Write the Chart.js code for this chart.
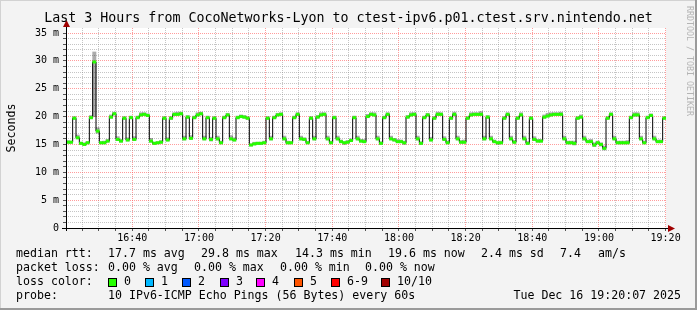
<!DOCTYPE html>
<html>
<head>
<meta charset="utf-8">
<script src="https://cdn.jsdelivr.net/npm/chart.js@4.4.1/dist/chart.umd.min.js"></script>
<style>
  html, body { margin: 0; padding: 0; background: #f3f3f3; }
  #wrap { width: 697px; height: 310px; }
</style>
</head>
<body>
<div id="wrap"><canvas id="ping" width="697" height="310"></canvas></div>
<script>
// time axis in minutes after 16:00, window is 16:20:07 .. 19:20:07
const startMin = 20 + 7 / 60;
const endMin = startMin + 180;

// median rtt per minute (ms)
const medianRtt = [
  15.4, 15.4, 19.7, 16.2, 15.2, 15.0, 15.3, 19.8, 29.8, 17.4,
  15.3, 15.3, 15.6, 19.9, 20.5, 15.9, 15.6, 19.7, 15.8, 19.8,
  15.9, 19.8, 20.3, 20.4, 20.2, 15.6, 15.2, 15.3, 15.4, 19.7,
  15.8, 19.7, 20.4, 20.4, 20.5, 16.0, 19.9, 16.1, 19.8, 20.3,
  20.5, 16.0, 19.8, 15.9, 19.7, 16.0, 15.3, 19.8, 20.3, 16.0,
  15.8, 19.8, 20.0, 19.9, 19.7, 14.9, 15.1, 15.2, 15.2, 15.3,
  19.7, 16.0, 19.8, 20.3, 20.4, 16.0, 15.3, 15.3, 19.8, 20.4,
  16.0, 15.9, 15.3, 19.7, 16.0, 19.9, 20.3, 20.4, 16.0, 15.3,
  19.8, 16.0, 15.5, 15.3, 15.4, 15.7, 19.8, 16.0, 15.6, 15.5,
  20.0, 20.4, 20.3, 16.0, 15.2, 19.8, 20.4, 16.0, 15.8, 15.5,
  15.5, 15.3, 19.9, 20.3, 20.4, 16.0, 15.2, 19.8, 20.3, 15.8,
  19.7, 20.4, 20.4, 15.9, 15.3, 19.7, 20.4, 16.0, 15.4, 15.4,
  19.7, 20.3, 20.4, 20.4, 20.4, 16.0, 19.9, 16.0, 15.5, 15.3,
  15.3, 19.7, 20.4, 16.0, 15.4, 19.7, 20.3, 16.0, 15.2, 19.7,
  15.9, 15.6, 15.6, 19.9, 20.1, 20.3, 20.4, 20.4, 20.4, 16.0,
  15.3, 15.3, 15.2, 19.7, 19.9, 16.0, 15.5, 15.5, 14.9, 15.3,
  15.0, 14.3, 19.7, 20.4, 16.0, 15.3, 15.3, 15.3, 15.3, 19.8,
  20.3, 20.3, 16.0, 15.3, 19.8, 20.2, 16.0, 15.5, 15.5, 19.7
];

// smoke spread above / below the median (ms)
const smokeUp = [
  .3, .2, .3, .5, .2, .3, .2, .4, 1.8, .6,
  .2, .3, .3, .4, .3, .5, .3, .3, .4, .3,
  .5, .3, .4, .3, .3, .5, .2, .2, .3, .3,
  .4, .3, .3, .4, .3, .5, .3, .5, .3, .4,
  .3, .5, .3, .4, .3, .5, .3, .3, .3, .6,
  .4, .3, .3, .3, .3, .2, .3, .2, .2, .3,
  .3, .5, .3, .3, .3, .5, .3, .2, .3, .3,
  .5, .3, .2, .3, .5, .3, .4, .3, .5, .3,
  .3, .5, .3, .2, .3, .3, .3, .5, .3, .4,
  .4, .3, .4, .5, .3, .3, .3, .5, .3, .4,
  .3, .3, .3, .4, .3, .5, .3, .3, .3, .5,
  .3, .4, .3, .5, .3, .3, .4, .5, .3, .4,
  .3, .4, .3, .3, .5, .5, .3, .5, .3, .2,
  .3, .3, .3, .5, .3, .3, .4, .5, .3, .3,
  .5, .3, .3, .4, .5, .4, .3, .3, .4, .5,
  .3, .3, .4, .3, .4, .5, .3, .4, .4, .3,
  .3, .4, .3, .3, .5, .3, .3, .3, .4, .3,
  .4, .4, .5, .3, .3, .3, .5, .3, .3, .3
];
const smokeDown = [
  .2, .2, .2, .2, .2, .2, .2, .2, 9.8, .4,
  .2, .2, .2, .2, .2, .2, .2, .2, .2, .2,
  .2, .2, .2, .2, .2, .2, .2, .2, .2, .2,
  .2, .2, .2, .2, .2, .2, .2, .2, .2, .2,
  .2, .2, .2, .3, .2, .2, .2, .2, .2, .2,
  .2, .2, .2, .2, .2, .2, .2, .2, .2, .2,
  .2, .2, .2, .2, .2, .2, .2, .2, .2, .2,
  .2, .2, .2, .2, .2, .2, .2, .2, .2, .2,
  .2, .2, .2, .3, .2, .2, .2, .2, .2, .2,
  .2, .2, .2, .2, .2, .2, .2, .2, .2, .2,
  .2, .3, .2, .2, .2, .2, .2, .2, .2, .2,
  .2, .2, .2, .2, .2, .2, .2, .2, .2, .2,
  .2, .2, .2, .2, .2, .2, .2, .2, .2, .3,
  .2, .2, .2, .2, .2, .2, .2, .2, .2, .2,
  .2, .2, .2, .2, .2, .2, .2, .2, .2, .2,
  .2, .2, .3, .2, .2, .2, .2, .2, .3, .2,
  .3, .3, .2, .2, .2, .2, .2, .2, .2, .2,
  .2, .2, .2, .2, .2, .2, .2, .2, .2, .2
];

const xMajorMinutes = [40, 60, 80, 100, 120, 140, 160, 180, 200];
const xMajorLabels = ['16:40', '17:00', '17:20', '17:40', '18:00', '18:20', '18:40', '19:00', '19:20'];
const yMajorValues = [0, 5, 10, 15, 20, 25, 30, 35];
const yMajorLabels = ['0', '5 m', '10 m', '15 m', '20 m', '25 m', '30 m', '35 m'];

const lossColors = ['#26ff00', '#00b8ff', '#0059ff', '#7e00ff', '#ff00ff', '#ff5500', '#ff0000', '#a10000'];
const lossLabels = ['0', '1', '2', '3', '4', '5', '6-9', '10/10'];

const MONO = '"DejaVu Sans Mono", monospace';

const medianPoints = medianRtt.map((v, i) => ({ x: startMin + i + 0.5, y: v }));
const smokeBars = medianRtt.map((v, i) => ({ x: startMin + i + 0.5, y: [v - smokeDown[i], v + smokeUp[i]] }));

function gridColor(ctx, majorStep) {
  if (!ctx.tick) return 'rgba(0,0,0,0)';
  return ctx.tick.value % majorStep === 0 ? 'rgba(255,90,90,0.6)' : 'rgba(140,140,140,0.5)';
}

const decor = {
  id: 'decor',
  beforeDraw(chart) {
    const { ctx, chartArea: a } = chart;
    ctx.save();
    ctx.fillStyle = '#f3f3f3';
    ctx.fillRect(0, 0, chart.width, chart.height);
    ctx.fillStyle = '#ffffff';
    ctx.fillRect(a.left, a.top, a.right - a.left, a.bottom - a.top);
    ctx.restore();
  },
  afterDraw(chart) {
    const { ctx, chartArea: a } = chart;
    ctx.save();

    // axes + arrows
    ctx.strokeStyle = '#000';
    ctx.lineWidth = 1;
    ctx.beginPath();
    ctx.moveTo(62, a.bottom + 0.5);
    ctx.lineTo(670, a.bottom + 0.5);
    ctx.moveTo(a.left + 0.5, a.bottom + 3);
    ctx.lineTo(a.left + 0.5, 25);
    ctx.stroke();
    ctx.fillStyle = '#a00000';
    ctx.beginPath();
    ctx.moveTo(a.left + 0.5, 20);
    ctx.lineTo(a.left - 3, 27);
    ctx.lineTo(a.left + 4, 27);
    ctx.fill();
    ctx.beginPath();
    ctx.moveTo(675, a.bottom + 0.5);
    ctx.lineTo(668, a.bottom - 3);
    ctx.lineTo(668, a.bottom + 4);
    ctx.fill();

    // title
    ctx.fillStyle = '#000';
    ctx.font = '13.3px ' + MONO;
    ctx.textAlign = 'center';
    ctx.textBaseline = 'middle';
    ctx.fillText('Last 3 Hours from CocoNetworks-Lyon to ctest-ipv6.p01.ctest.srv.nintendo.net', 348.5, 19);

    // legend lines
    ctx.font = '11.6px ' + MONO;
    ctx.textAlign = 'left';
    const rows = [
      [254, [[16, 'median rtt:'], [108, '17.7 ms avg'], [201, '29.8 ms max'], [295, '14.3 ms min'], [388, '19.6 ms now'], [481, '2.4 ms sd'], [560, '7.4'], [598, 'am/s']]],
      [268, [[16, 'packet loss:'], [108, '0.00 % avg'], [194, '0.00 % max'], [280, '0.00 % min'], [365, '0.00 % now']]],
      [282, [[16, 'loss color:']]],
      [296, [[16, 'probe:'], [108, '10 IPv6-ICMP Echo Pings (56 Bytes) every 60s']]]
    ];
    rows.forEach(([y, items]) => items.forEach(([x, t]) => ctx.fillText(t, x, y)));
    const boxX = [108, 145, 182, 220, 256, 294, 331, 381];
    lossColors.forEach((c, i) => {
      ctx.fillStyle = c;
      ctx.fillRect(boxX[i], 278, 8, 8);
      ctx.strokeStyle = '#000';
      ctx.strokeRect(boxX[i] + 0.5, 278.5, 8, 8);
      ctx.fillStyle = '#000';
      ctx.fillText(lossLabels[i], boxX[i] + 16, 282);
    });
    ctx.textAlign = 'right';
    ctx.fillText('Tue Dec 16 19:20:07 2025', 681, 296);

    // watermark
    ctx.save();
    ctx.translate(689, 6);
    ctx.rotate(Math.PI / 2);
    ctx.font = '8.3px ' + MONO;
    ctx.fillStyle = '#b4b4b4';
    ctx.textAlign = 'left';
    ctx.fillText('RRDTOOL / TOBI OETIKER', 0, 0);
    ctx.restore();

    // frame
    ctx.fillStyle = '#d2d2d2';
    ctx.fillRect(0, 0, chart.width, 1);
    ctx.fillRect(0, 0, 1, chart.height);
    ctx.fillStyle = '#9a9a9a';
    ctx.fillRect(0, chart.height - 2, chart.width, 2);
    ctx.fillRect(chart.width - 2, 0, 2, chart.height);
    ctx.restore();
  }
};

new Chart(document.getElementById('ping'), {
  type: 'line',
  data: {
    datasets: [
      {
        label: 'loss 0',
        data: medianPoints,
        showLine: false,
        pointStyle: 'line',
        pointRadius: 1.9,
        pointHoverRadius: 1.9,
        pointBorderWidth: 3,
        pointBorderColor: lossColors[0],
        order: 0
      },
      {
        label: 'median',
        data: medianPoints,
        stepped: 'middle',
        borderColor: '#000',
        borderWidth: 1,
        pointRadius: 0,
        fill: false,
        order: 1
      },
      {
        type: 'bar',
        label: 'smoke',
        data: smokeBars,
        backgroundColor: 'rgba(0,0,0,0.33)',
        borderWidth: 0,
        barPercentage: 1,
        categoryPercentage: 1,
        order: 2
      }
    ]
  },
  options: {
    responsive: false,
    animation: false,
    events: [],
    layout: { padding: { left: 0, top: 28, right: 31, bottom: 62 } },
    plugins: {
      legend: { display: false },
      tooltip: { enabled: false },
      title: { display: false }
    },
    scales: {
      x: {
        type: 'linear',
        min: startMin,
        max: endMin,
        offset: false,
        afterBuildTicks: s => {
          const t = [];
          for (let v = 25; v <= 200; v += 5) t.push({ value: v });
          s.ticks = t;
        },
        afterFit: s => { s.height = 20; },
        ticks: {
          autoSkip: false,
          maxRotation: 0,
          padding: 1,
          color: '#000',
          font: { family: MONO, size: 10 },
          callback: v => {
            const k = xMajorMinutes.indexOf(v);
            return k >= 0 ? xMajorLabels[k] : '';
          }
        },
        grid: {
          offset: false,
          color: c => gridColor(c, 20),
          tickLength: 3,
          tickColor: '#555'
        },
        border: { display: false, dash: [1, 1] }
      },
      y: {
        min: 0,
        max: 35.9,
        afterBuildTicks: s => {
          const t = [];
          for (let v = 0; v <= 35; v += 1) t.push({ value: v });
          s.ticks = t;
        },
        afterFit: s => { s.width = 66; },
        ticks: {
          autoSkip: false,
          padding: 4,
          color: '#000',
          font: { family: MONO, size: 10 },
          callback: v => {
            const k = yMajorValues.indexOf(v);
            return k >= 0 ? yMajorLabels[k] : '';
          }
        },
        grid: {
          color: c => gridColor(c, 5),
          tickLength: 3,
          tickColor: '#555'
        },
        border: { display: false, dash: [1, 1] },
        title: {
          display: true,
          text: 'Seconds',
          color: '#000',
          font: { family: MONO, size: 11.6 },
          padding: { top: 5, bottom: 0 }
        }
      }
    }
  },
  plugins: [decor]
});
</script>
</body>
</html>
